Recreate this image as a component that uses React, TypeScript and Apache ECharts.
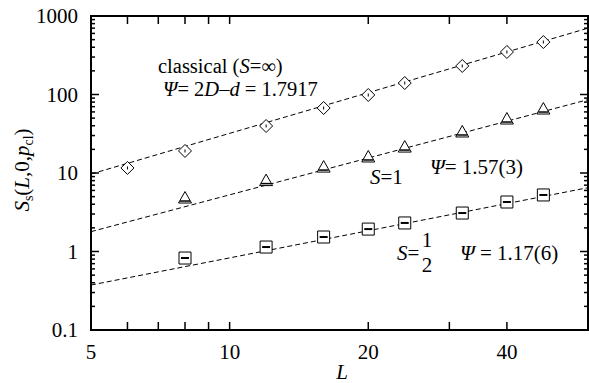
import React, { useEffect, useRef } from "react";
import * as echarts from "echarts";

// ---- data ----
const lClassical = [6, 8, 12, 16, 20, 24, 32, 40, 48];
const sClassical = [11.6, 19.1, 39.7, 67.3, 98.6, 140, 231, 348, 466];
const lQuantum = [8, 12, 16, 20, 24, 32, 40, 48];
const sSpinOne = [4.8, 8.0, 11.9, 16.0, 21.4, 33.3, 48.7, 65.3];
const sSpinHalf = [0.826, 1.14, 1.53, 1.93, 2.31, 3.09, 4.27, 5.25];

const fitL = [5, 60];
const fitClassical = [9.7, 700];
const fitSpinOne = [1.79, 86];
const fitSpinHalf = [0.374, 6.5];

const xMin = 5;
const xMax = 60;
const yMin = 0.1;
const yMax = 1000;
const xTickValues = [6, 7, 8, 9, 10, 20, 30, 40];
const xLabelValues = [5, 10, 20, 40];
const xLabelTexts = ["5", "10", "20", "40"];
const yMajorTicks = [0.1, 1, 10, 100, 1000];
const yTickLabels = ["0.1", "1", "10", "100", "1000"];
const yMinorMultipliers = [2, 3, 4, 5, 6, 7, 8, 9];

const FONT = "Liberation Serif";
const FS = 21;

function markerSeries(name: string, xs: number[], ys: number[], shape: string) {
  return {
    type: "custom",
    name,
    z: 5,
    data: xs.map((x, i) => [x, ys[i]]),
    renderItem: (_params: any, api: any) => {
      const p = api.coord([api.value(0), api.value(1)]);
      const cx = p[0];
      const cy = p[1];
      const st = { fill: "#fff", stroke: "#000", lineWidth: 1 };
      const children: any[] = [];
      if (shape === "diamond") {
        const h = 6.5;
        children.push({
          type: "polygon",
          shape: { points: [[cx, cy - h], [cx + h, cy], [cx, cy + h], [cx - h, cy]] },
          style: st,
        });
        children.push({
          type: "line",
          shape: { x1: cx, y1: cy - 1.5, x2: cx, y2: cy + 1.5 },
          style: { stroke: "#000", lineWidth: 1 },
        });
      } else if (shape === "triangle") {
        children.push({
          type: "polygon",
          shape: { points: [[cx, cy - 6.5], [cx + 6.5, cy + 5], [cx - 6.5, cy + 5]] },
          style: st,
        });
        children.push({
          type: "line",
          shape: { x1: cx - 5, y1: cy + 3, x2: cx + 5, y2: cy + 3 },
          style: { stroke: "#000", lineWidth: 1.5 },
        });
      } else {
        const h = 6;
        children.push({
          type: "rect",
          shape: { x: cx - h, y: cy - h, width: 2 * h, height: 2 * h },
          style: st,
        });
        children.push({
          type: "line",
          shape: { x1: cx - 4, y1: cy, x2: cx + 4, y2: cy },
          style: { stroke: "#000", lineWidth: 2 },
        });
      }
      return { type: "group", children };
    },
  };
}

function fitSeries(name: string, ys: number[]) {
  return {
    type: "line",
    name,
    data: fitL.map((x, i) => [x, ys[i]]),
    showSymbol: false,
    symbol: "none",
    lineStyle: { color: "#000", width: 1, type: [5, 3] },
    z: 3,
  };
}

export default function App() {
  const ref = useRef<HTMLDivElement>(null);
  useEffect(() => {
    if (!ref.current) return;
    const chart = echarts.init(ref.current, null, { renderer: "svg" });

    // tick marks: [x, y, dx, dy]
    const ticks: number[][] = [];
    xTickValues.forEach((v) => {
      ticks.push([v, yMin, 0, -8]);
      ticks.push([v, yMax, 0, 8]);
    });
    yMajorTicks.forEach((m) => {
      ticks.push([xMin, m, 8, 0]);
      ticks.push([xMax, m, -8, 0]);
      if (m < yMax) {
        yMinorMultipliers.forEach((k) => {
          ticks.push([xMin, m * k, 4, 0]);
          ticks.push([xMax, m * k, -4, 0]);
        });
      }
    });

    const tickSeries = {
      type: "custom",
      name: "ticks",
      z: 4,
      clip: false,
      silent: true,
      data: ticks,
      renderItem: (_p: any, api: any) => {
        const p = api.coord([api.value(0), api.value(1)]);
        return {
          type: "line",
          shape: { x1: p[0], y1: p[1], x2: p[0] + api.value(2), y2: p[1] + api.value(3) },
          style: { stroke: "#000", lineWidth: 1.5 },
        };
      },
    };

    const xLabelSeries = {
      type: "custom",
      name: "xlabels",
      z: 4,
      clip: false,
      silent: true,
      data: xLabelValues.map((v) => [v, yMin]),
      renderItem: (params: any, api: any) => {
        const p = api.coord([api.value(0), api.value(1)]);
        return {
          type: "text",
          x: p[0],
          y: p[1] + 22,
          style: {
            text: xLabelTexts[params.dataIndex],
            fontFamily: FONT,
            fontSize: FS,
            fill: "#000",
            align: "center",
            verticalAlign: "middle",
          },
        };
      },
    };

    const mkRich = (fs: number) => ({
      n: { fontFamily: FONT, fontSize: fs, color: "#000", lineHeight: fs - 2 },
      i: { fontFamily: FONT, fontSize: fs, color: "#000", fontStyle: "italic", lineHeight: fs - 2 },
    });

    const txt = (x: number, y: number, text: string, align = "left", fs = FS) => ({
      type: "text",
      x,
      y,
      z: 10,
      style: {
        text,
        rich: mkRich(fs),
        fontFamily: FONT,
        fontSize: fs,
        lineHeight: fs - 2,
        fill: "#000",
        align,
        verticalAlign: "middle",
      },
    });

    chart.setOption({
      animation: false,
      grid: {
        left: 91,
        top: 16,
        width: 497,
        height: 314,
        show: true,
        borderColor: "#000",
        borderWidth: 2,
        backgroundColor: "transparent",
      },
      xAxis: {
        type: "log",
        logBase: 10,
        min: xMin,
        max: xMax,
        axisLine: { show: false },
        axisTick: { show: false },
        axisLabel: { show: false },
        splitLine: { show: false },
      },
      yAxis: {
        type: "log",
        logBase: 10,
        min: yMin,
        max: yMax,
        axisLine: { show: false },
        axisTick: { show: false },
        splitLine: { show: false },
        axisLabel: {
          show: true,
          margin: 13,
          fontFamily: FONT,
          fontSize: FS,
          color: "#000",
          formatter: (v: number) => {
            const r = Number(v.toPrecision(4));
            const idx = yMajorTicks.findIndex((m) => Math.abs(m - r) / m < 1e-6);
            return idx >= 0 ? yTickLabels[idx] : "";
          },
        },
      },
      series: [
        fitSeries("fit classical", fitClassical),
        fitSeries("fit S=1", fitSpinOne),
        fitSeries("fit S=1/2", fitSpinHalf),
        markerSeries("classical", lClassical, sClassical, "diamond"),
        markerSeries("S=1", lQuantum, sSpinOne, "triangle"),
        markerSeries("S=1/2", lQuantum, sSpinHalf, "square"),
        tickSeries,
        xLabelSeries,
      ],
      graphic: [
        txt(158, 66, "{n|classical (}{i|S}{n|=∞)}", "left", 20.5),
        txt(163, 89, "{i|Ψ}{n|= 2}{i|D}{n|–}{i|d}{n| = 1.7917}", "left", 20.5),
        txt(370, 177, "{i|S}{n|=1}"),
        txt(430, 167, "{i|Ψ}{n|= 1.57(3)}"),
        txt(397, 253, "{i|S}{n|=}"),
        txt(427, 240, "1", "center"),
        txt(427, 265, "2", "center"),
        txt(460, 253, "{i|Ψ}{n| = 1.17(6)}"),
        txt(342, 372, "{i|L}", "center"),
        {
          type: "text",
          x: 22,
          y: 170,
          rotation: Math.PI / 2,
          z: 10,
          style: {
            text: "{i|S}{s|s}{n|(}{i|L}{n|,0,}{i|p}{s|cl}{n|)}",
            rich: {
              n: { fontFamily: FONT, fontSize: FS, color: "#000", lineHeight: 26 },
              i: { fontFamily: FONT, fontSize: FS, color: "#000", fontStyle: "italic", lineHeight: 26 },
              s: { fontFamily: FONT, fontSize: 14, color: "#000", verticalAlign: "bottom", lineHeight: 14 },
            },
            align: "center",
            verticalAlign: "middle",
          },
        },
      ],
    });
    return () => chart.dispose();
  }, []);
  return (
    <div
      ref={ref}
      style={{ position: "fixed", left: 0, top: 0, width: 589, height: 383, background: "#fff" }}
    />
  );
}
